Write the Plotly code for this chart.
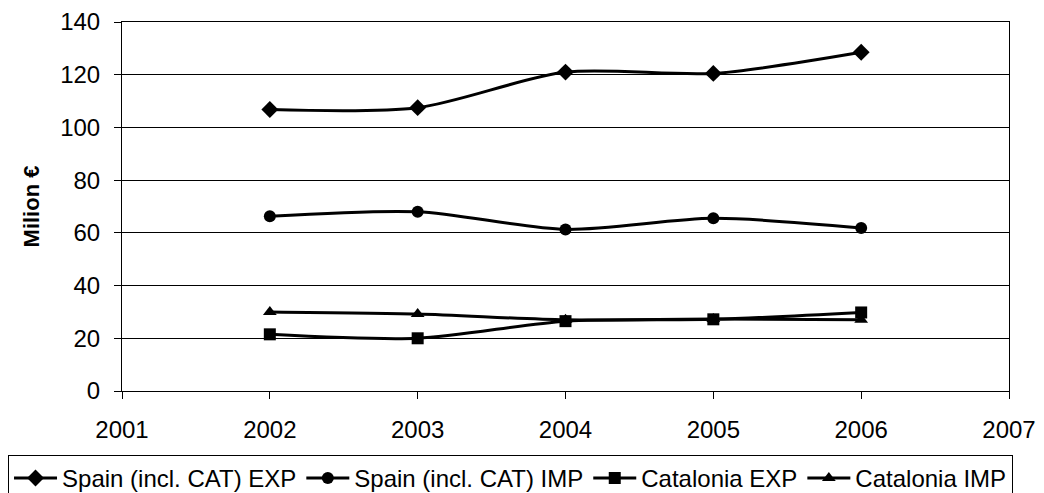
import plotly.graph_objects as go

years = [2002, 2003, 2004, 2005, 2006]
spain_exp = [106.8, 107.5, 121.0, 120.5, 128.5]
spain_imp = [66.3, 68.0, 61.3, 65.5, 61.8]
cat_exp = [21.5, 20.0, 26.5, 27.2, 29.8]
cat_imp = [30.0, 29.2, 27.0, 27.3, 27.0]

series = [
    ("Spain (incl. CAT) EXP", spain_exp, "diamond", 13),
    ("Spain (incl. CAT) IMP", spain_imp, "circle", 12),
    ("Catalonia EXP", cat_exp, "square", 12),
    ("Catalonia IMP", cat_imp, "triangle-up", 12),
]

fig = go.Figure()
for name, vals, sym, sz in series:
    fig.add_trace(go.Scatter(
        x=years, y=vals, name=name, mode="lines+markers",
        line=dict(color="black", width=3, shape="spline", smoothing=0.8),
        marker=dict(symbol=sym, size=sz, color="black"),
    ))

font_family = "Liberation Sans, Arial, sans-serif"
fig.update_layout(
    width=1044, height=493,
    margin=dict(l=122, r=35, t=22, b=102, autoexpand=False),
    plot_bgcolor="white", paper_bgcolor="white",
    font=dict(family=font_family, size=24, color="black"),
    showlegend=True,
    legend=dict(
        orientation="h", x=-0.1285, xanchor="left", y=-0.173, yanchor="top",
        bordercolor="black", borderwidth=1, font=dict(size=24),
        itemwidth=43, tracegroupgap=0,
    ),
    xaxis=dict(
        range=[2001, 2007], dtick=1, tick0=2001, showgrid=False,
        showline=True, linecolor="black", linewidth=1, mirror=True,
        ticks="outside", ticklen=7, tickcolor="black", zeroline=False,
        automargin=False, ticklabelstandoff=10,
    ),
    yaxis=dict(
        range=[0, 140], dtick=20, showgrid=True, gridcolor="black", gridwidth=1,
        showline=True, linecolor="black", linewidth=1, mirror=True,
        ticks="outside", ticklen=7, tickcolor="black", zeroline=False,
        automargin=False, ticklabelstandoff=9,
        title=dict(text="<b>Milion €</b>", font=dict(size=22), standoff=14),
    ),
)

fig.write_html("out.html", config={"displayModeBar": False},
               post_script="document.body.style.margin='0';")
